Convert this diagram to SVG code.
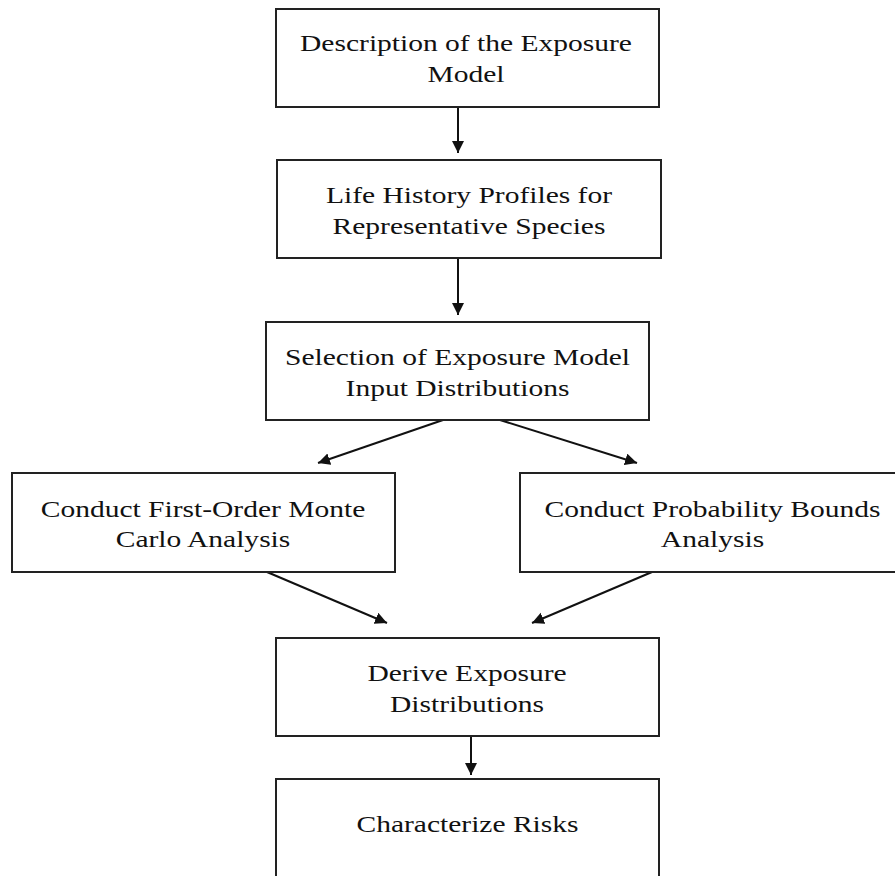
<svg xmlns="http://www.w3.org/2000/svg" width="895" height="876" viewBox="0 0 895 876">
  <style>
    .box { fill: #ffffff; stroke: #222222; stroke-width: 2; }
    .lbl { font-family: "Liberation Serif", "Times New Roman", serif; font-size: 24px; fill: #111111; text-anchor: middle; }
    .conn { stroke: #111111; stroke-width: 2; fill: none; marker-end: url(#head); }
  </style>
  <defs>
    <marker id="head" markerUnits="userSpaceOnUse" markerWidth="13" markerHeight="13" refX="12" refY="6" orient="auto">
      <path d="M0,0 L12,6 L0,12 Z" fill="#111111"/>
    </marker>
  </defs>
  <rect width="895" height="876" fill="#ffffff"/>

  <g id="connectors">
    <line class="conn" x1="458" y1="107" x2="458" y2="153"/>
    <line class="conn" x1="458" y1="258" x2="458" y2="315"/>
    <line class="conn" x1="443" y1="420" x2="318" y2="463"/>
    <line class="conn" x1="500" y1="420" x2="637" y2="463"/>
    <line class="conn" x1="267" y1="572" x2="387" y2="623"/>
    <line class="conn" x1="652" y1="572" x2="532" y2="623"/>
    <line class="conn" x1="471" y1="736" x2="471" y2="775"/>
  </g>

  <g id="node-description">
    <rect class="box" x="276" y="9" width="383" height="98"/>
    <text class="lbl" transform="translate(466,51) scale(1.23,1)">Description of the Exposure</text>
    <text class="lbl" transform="translate(466,82) scale(1.23,1)">Model</text>
  </g>

  <g id="node-life-history">
    <rect class="box" x="277" y="160" width="384" height="98"/>
    <text class="lbl" transform="translate(469,203) scale(1.23,1)">Life History Profiles for</text>
    <text class="lbl" transform="translate(469,234) scale(1.23,1)">Representative Species</text>
  </g>

  <g id="node-selection">
    <rect class="box" x="266" y="322" width="383" height="98"/>
    <text class="lbl" transform="translate(457.5,365) scale(1.23,1)">Selection of Exposure Model</text>
    <text class="lbl" transform="translate(457.5,396) scale(1.23,1)">Input Distributions</text>
  </g>

  <g id="node-monte-carlo">
    <rect class="box" x="12" y="473" width="383" height="99"/>
    <text class="lbl" transform="translate(203,517) scale(1.23,1)">Conduct First-Order Monte</text>
    <text class="lbl" transform="translate(203,547) scale(1.23,1)">Carlo Analysis</text>
  </g>

  <g id="node-probability-bounds">
    <rect class="box" x="520" y="473" width="385" height="99"/>
    <text class="lbl" transform="translate(712.5,517) scale(1.23,1)">Conduct Probability Bounds</text>
    <text class="lbl" transform="translate(712.5,547) scale(1.23,1)">Analysis</text>
  </g>

  <g id="node-derive">
    <rect class="box" x="276" y="638" width="383" height="98"/>
    <text class="lbl" transform="translate(467,681) scale(1.23,1)">Derive Exposure</text>
    <text class="lbl" transform="translate(467,712) scale(1.23,1)">Distributions</text>
  </g>

  <g id="node-characterize">
    <rect class="box" x="276" y="779" width="383" height="110"/>
    <text class="lbl" transform="translate(467.5,832) scale(1.23,1)">Characterize Risks</text>
  </g>
</svg>
